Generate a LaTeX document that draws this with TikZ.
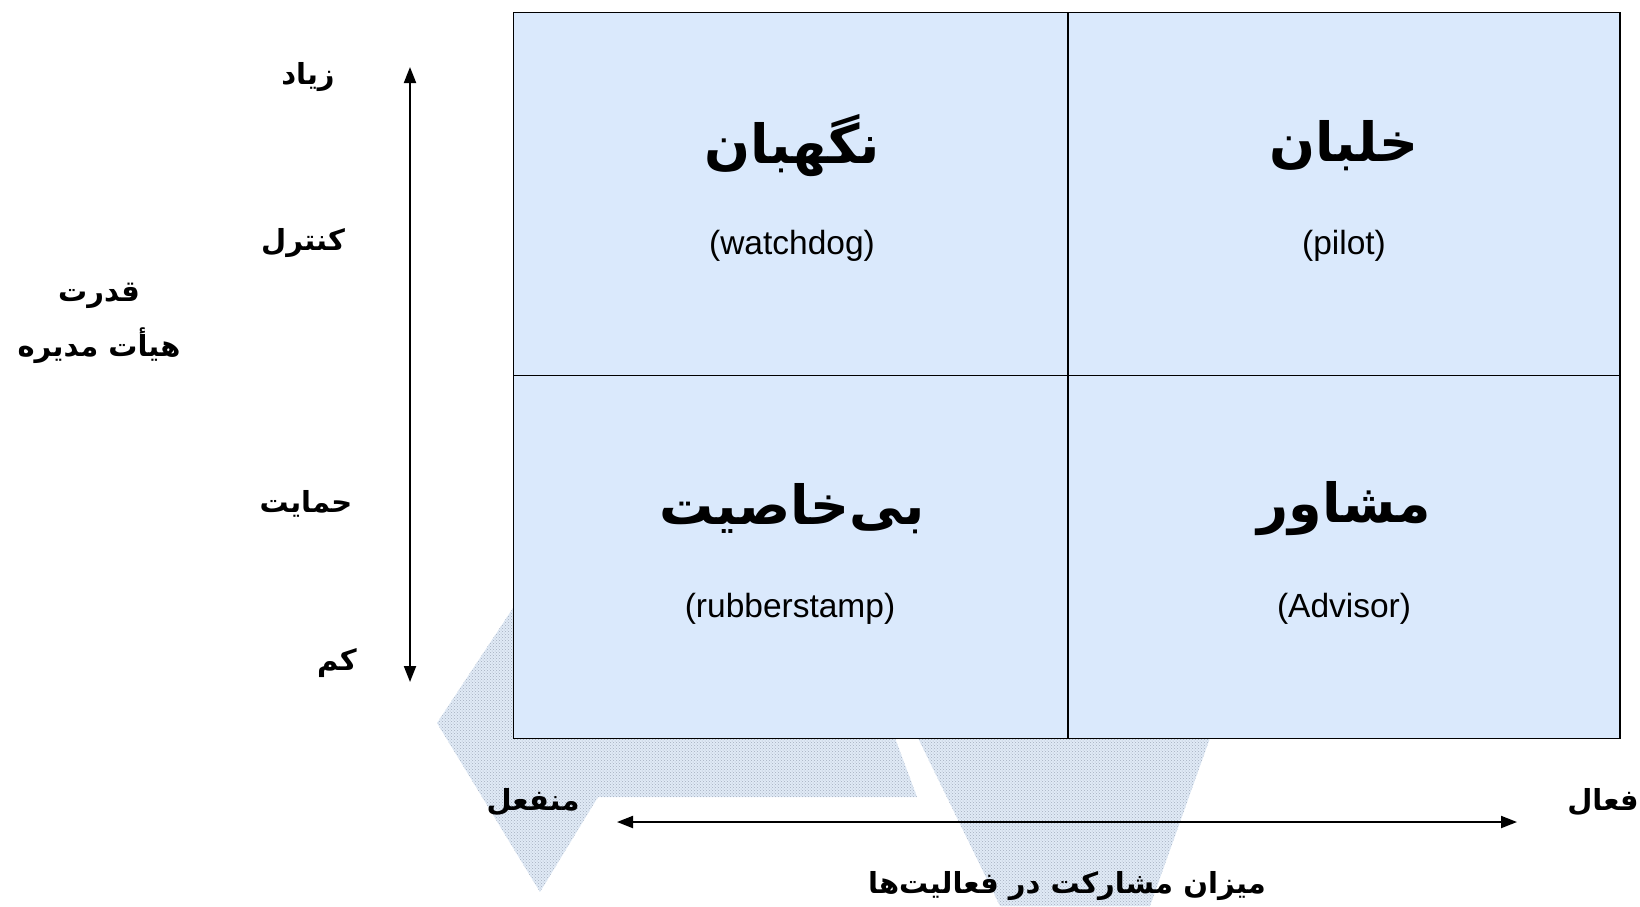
\documentclass[tikz,border=0pt]{standalone}
\usepackage{fontspec}
\setmainfont{Liberation Sans}
\newfontfamily\fa[Script=Arabic]{DejaVu Sans}
\TeXXeTstate=1
\usetikzlibrary{arrows.meta,patterns}
\definecolor{cellblue}{RGB}{218,233,252}
\definecolor{wmblue}{RGB}{224,234,246}
\definecolor{wmdots}{RGB}{165,175,190}
\tikzset{
  cell/.style={draw=black, line width=1.8pt, fill=cellblue},
  fatitle/.style={font=\fa\bfseries\fontsize{54}{62}\selectfont, inner sep=0pt},
  entitle/.style={font=\fontsize{33.5}{40}\selectfont, inner sep=0pt},
  falabel/.style={font=\fa\bfseries\fontsize{29}{36}\selectfont, inner sep=0pt, align=center},
  axis/.style={line width=2pt, {Triangle[length=16pt,width=12pt]}-{Triangle[length=16pt,width=12pt]}},
  wm/.style={fill=wmblue},
  wmpat/.style={pattern=crosshatch dots, pattern color=wmdots}
}
\begin{document}
\begin{tikzpicture}[x=1pt,y=-1pt]
\useasboundingbox (0,0) rectangle (1640,906);
% watermark shapes
\fill[wm] (515,605) -- (437,723) -- (540,892) -- (598,797) -- (917,797) -- (895,738) -- (895,650) -- cycle;
\fill[wmpat] (515,605) -- (437,723) -- (540,892) -- (598,797) -- (917,797) -- (895,738) -- (895,650) -- cycle;
\fill[wm] (918,738) -- (1000,906) -- (1150,906) -- (1210,738) -- (1210,700) -- (918,700) -- cycle;
\fill[wmpat] (918,738) -- (1000,906) -- (1150,906) -- (1210,738) -- (1210,700) -- (918,700) -- cycle;
% grid cells
\node[cell, minimum width=554.5pt, minimum height=363pt, anchor=north west, inner sep=0pt] (c1) at (512.5,11.5) {};
\node[cell, minimum width=552pt, minimum height=363pt, anchor=north west, inner sep=0pt] (c2) at (1067,11.5) {};
\node[cell, minimum width=554.5pt, minimum height=363pt, anchor=north west, inner sep=0pt] (c3) at (512.5,374.5) {};
\node[cell, minimum width=552pt, minimum height=363pt, anchor=north west, inner sep=0pt] (c4) at (1067,374.5) {};
% cell texts
\node[fatitle] (t1) at (792,146) {\beginR نگهبان\endR};
\node[entitle] (e1) at (792,246) {(watchdog)};
\node[fatitle] (t2) at (1344,146) {\beginR خلبان\endR};
\node[entitle] (e2) at (1344,246) {(pilot)};
\node[fatitle] (t3) at (792,509) {\beginR بی‌خاصیت\endR};
\node[entitle] (e3) at (790,609) {(rubberstamp)};
\node[fatitle] (t4) at (1344,509) {\beginR مشاور\endR};
\node[entitle] (e4) at (1344,609) {(Advisor)};
% vertical axis
\coordinate (vtop) at (410,67);
\coordinate (vbot) at (410,682);
\draw[axis] (vtop) -- (vbot);
\node[falabel] (high) at (308,77) {\beginR زیاد\endR};
\node[falabel] (ctrl) at (303,243) {\beginR کنترل\endR};
\node[falabel] (supp) at (306,504) {\beginR حمایت\endR};
\node[falabel] (low) at (337,663) {\beginR کم\endR};
\node[falabel] (pw1) at (99,296) {\beginR قدرت\endR};
\node[falabel] (pw2) at (99,346) {\beginR هیأت مدیره\endR};
% horizontal axis
\coordinate (hleft) at (617,822);
\coordinate (hright) at (1517,822);
\draw[axis] (hleft) -- (hright);
\node[falabel] (pass) at (533,802) {\beginR منفعل\endR};
\node[falabel] (act) at (1603,802) {\beginR فعال\endR};
\node[falabel] (part) at (1067,886) {\beginR میزان مشارکت در فعالیت‌ها\endR};
\end{tikzpicture}
\end{document}
